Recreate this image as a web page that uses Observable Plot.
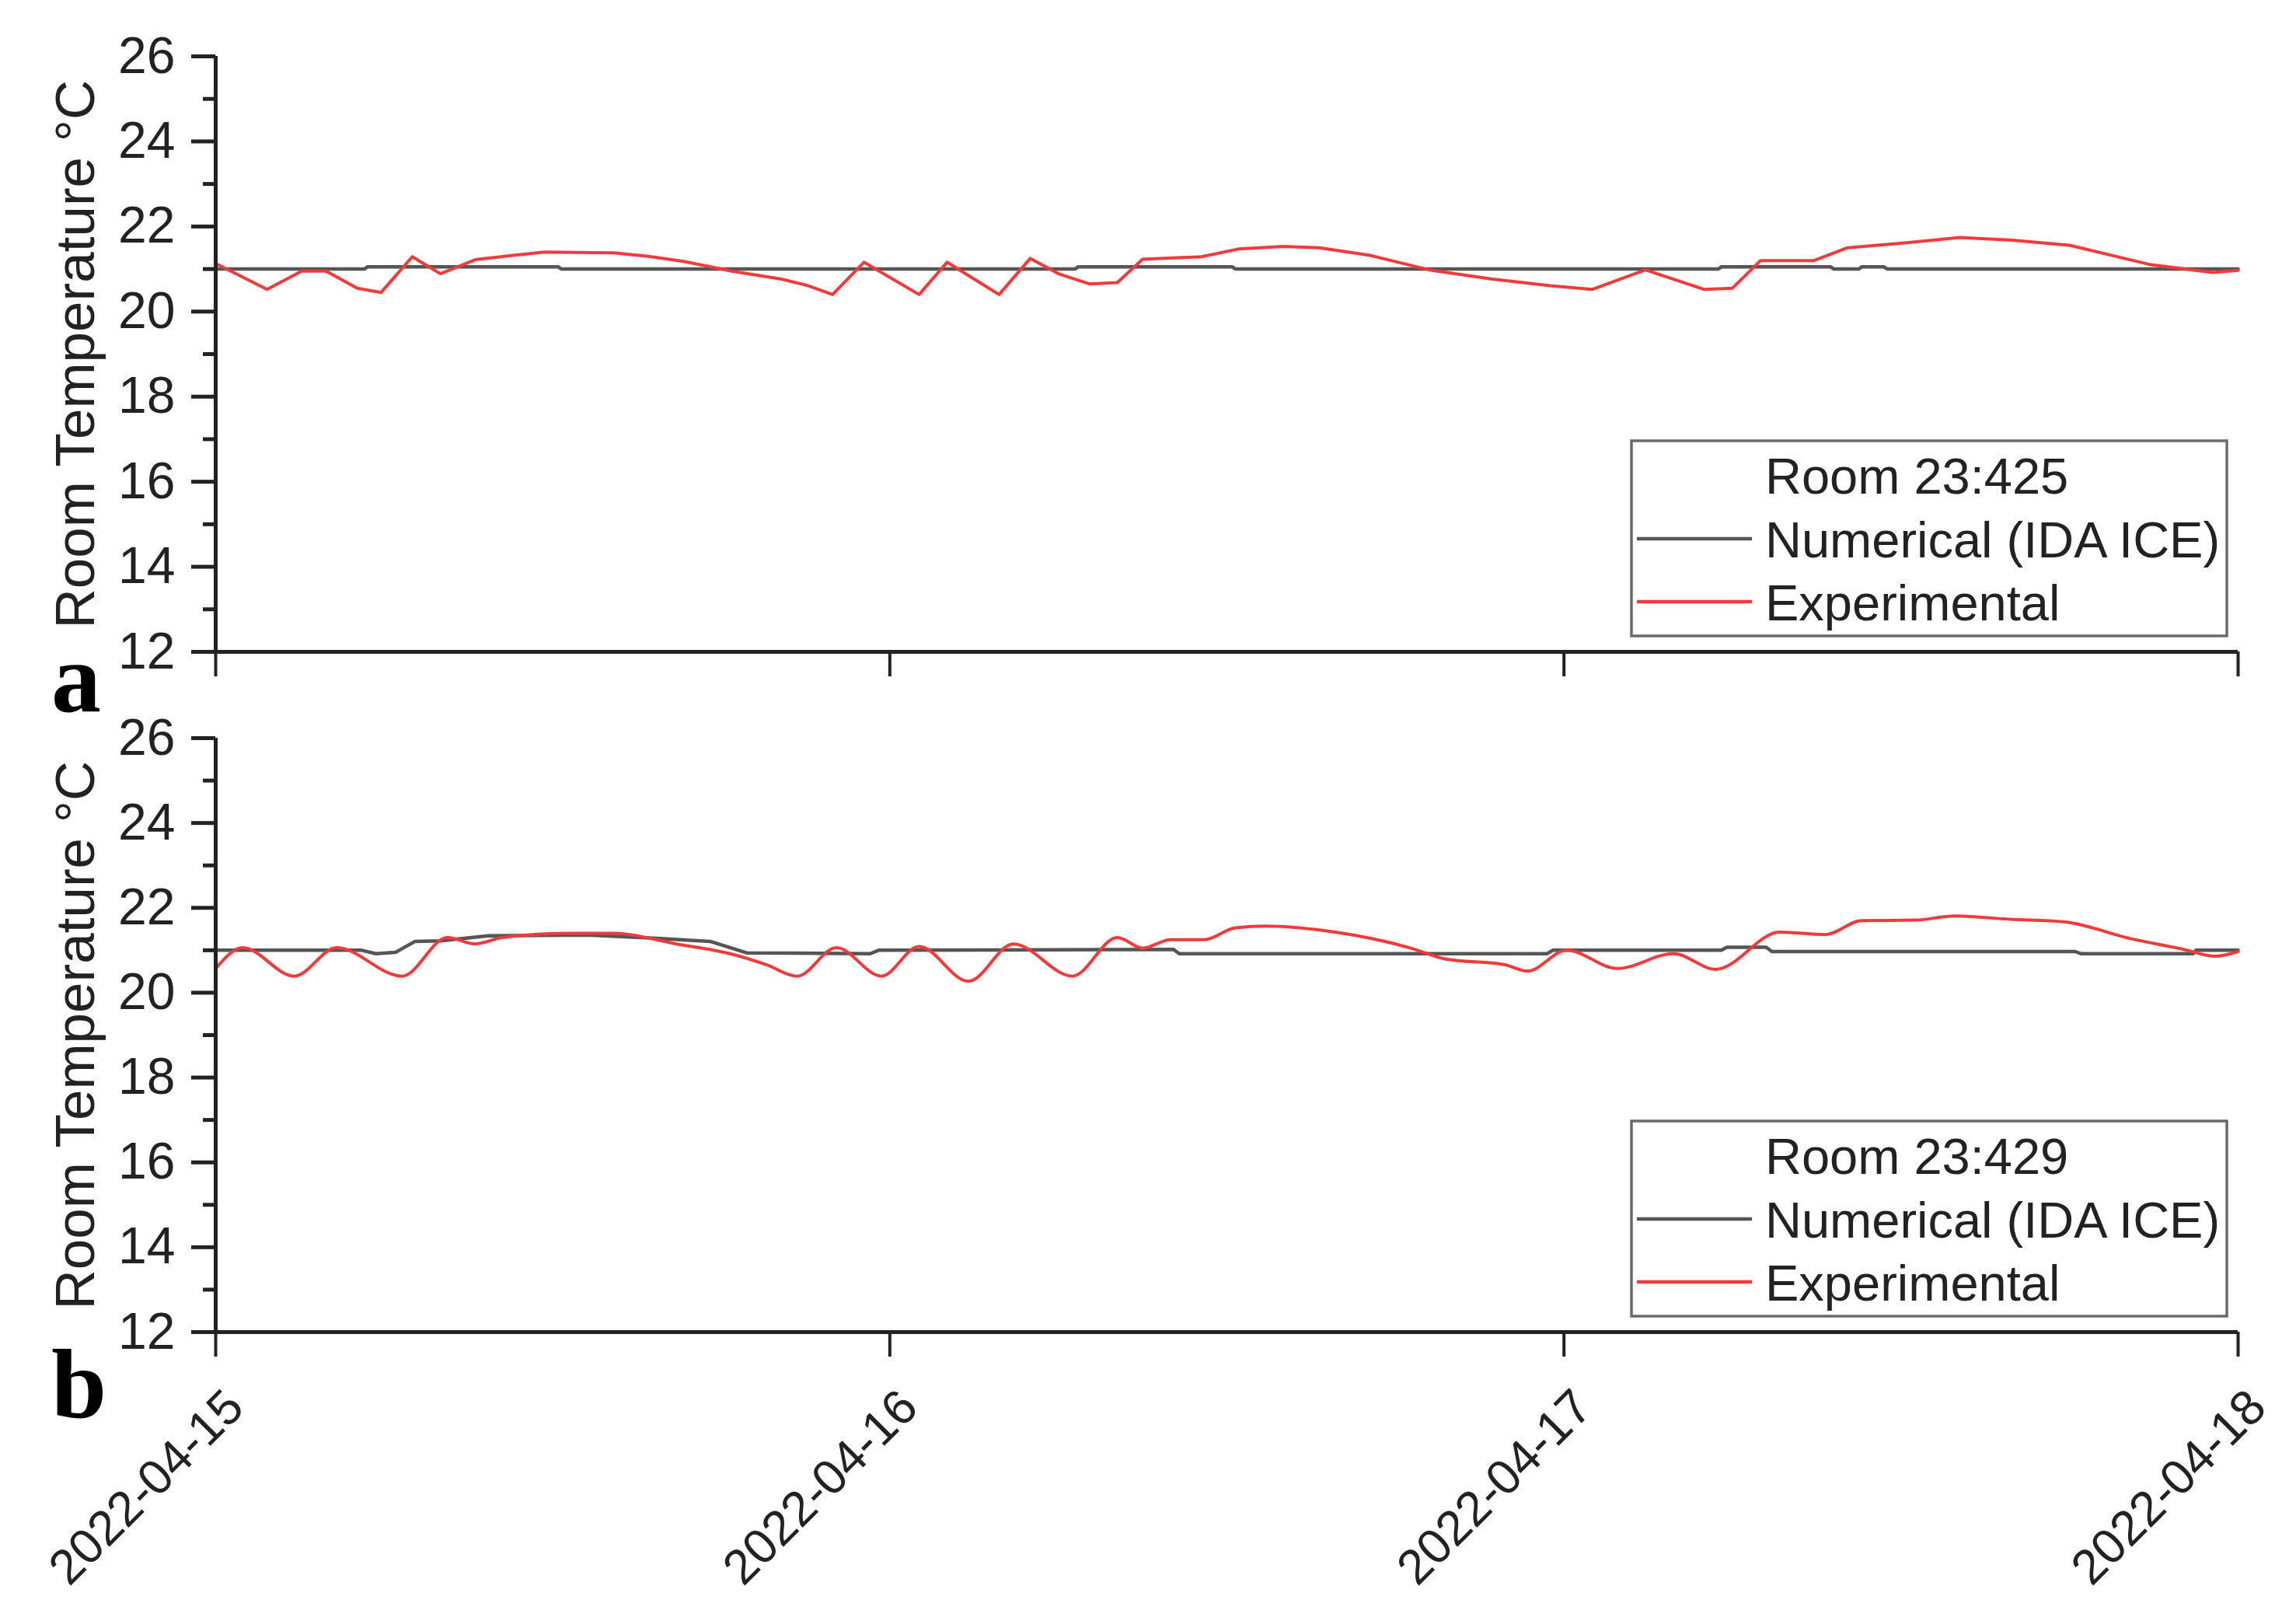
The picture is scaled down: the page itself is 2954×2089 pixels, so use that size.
<!DOCTYPE html>
<html>
<head>
<meta charset="utf-8">
<script src="https://cdn.jsdelivr.net/npm/d3@7"></script>
<script src="https://cdn.jsdelivr.net/npm/@observablehq/plot@0.6"></script>
<style>
  html, body { margin: 0; padding: 0; background: #fff; }
  #fig { position: relative; width: 2954px; height: 2089px; overflow: hidden; background: #fff;
         font-family: "Liberation Sans", Arial, sans-serif; }
  #fig > svg { position: absolute; left: 0; }
</style>
</head>
<body>
<div id="fig"></div>
<script>
// ---------------- data ----------------
const dayTicks = ["2022-04-15", "2022-04-16", "2022-04-17", "2022-04-18"];
const yTicks = [12, 14, 16, 18, 20, 22, 24, 26];
const yMinorTicks = [13, 15, 17, 19, 21, 23, 25];
const yTitle = "Room Temperature °C";
const roomTitles = ["Room 23:425", "Room 23:429"];
const seriesNames = ["Numerical (IDA ICE)", "Experimental"];
const panelLetters = ["a", "b"];

// hours since 2022-04-15 00:00, values in °C
const expHoursA = [0, 1.83, 3.06, 3.93, 5.04, 5.89, 7.0, 8.0, 9.24, 10.46, 11.7, 14.17, 15.41, 16.66, 18.37, 20.1, 21.08, 21.96, 23.08, 25.04, 26.04, 27.89, 29.0, 30.0, 31.1, 32.1, 33.0, 35.1, 36.4, 38.0, 39.3, 41.1, 43.2, 45.4, 47.5, 49.0, 50.9, 53.0, 54.0, 55.0, 56.9, 58.1, 60.2, 62.1, 63.9, 66.0, 68.9, 71.1, 72];
const expTempA  = [21.13, 20.52, 20.95, 20.95, 20.55, 20.45, 21.29, 20.89, 21.22, 21.31, 21.40, 21.38, 21.30, 21.18, 20.95, 20.77, 20.61, 20.40, 21.16, 20.40, 21.16, 20.40, 21.25, 20.89, 20.65, 20.68, 21.23, 21.29, 21.47, 21.53, 21.50, 21.32, 20.98, 20.77, 20.61, 20.52, 20.98, 20.52, 20.55, 21.20, 21.20, 21.50, 21.62, 21.74, 21.68, 21.56, 21.10, 20.92, 20.97];
const numHoursA = [0, 5.3, 5.4, 12.2, 12.3, 30.6, 30.7, 36.2, 36.3, 53.5, 53.6, 57.5, 57.6, 58.5, 58.6, 59.4, 59.5, 72];
const numTempA  = [21.0, 21.0, 21.05, 21.05, 21.0, 21.0, 21.05, 21.05, 21.0, 21.0, 21.05, 21.05, 21.0, 21.0, 21.05, 21.05, 21.0, 21.0];

const expHoursB = [0, 0.96, 2.8, 4.3, 6.64, 8.25, 9.24, 10.2, 12.7, 14.17, 16.4, 18.37, 19.6, 20.7, 22.1, 23.7, 25.04, 26.8, 28.4, 30.5, 32.1, 33.0, 34.0, 35.2, 36.3, 37.4, 39.5, 42.5, 43.8, 45.9, 46.7, 48.1, 49.9, 51.9, 53.4, 55.7, 57.3, 58.6, 60.5, 61.9, 63.9, 65.8, 68.2, 70.0, 71.2, 72];
const expTempB  = [20.57, 21.06, 20.39, 21.06, 20.39, 21.30, 21.15, 21.30, 21.40, 21.40, 21.15, 20.91, 20.66, 20.39, 21.06, 20.39, 21.09, 20.27, 21.15, 20.39, 21.30, 21.05, 21.25, 21.25, 21.53, 21.57, 21.46, 21.06, 20.79, 20.66, 20.51, 21.0, 20.57, 20.92, 20.55, 21.43, 21.37, 21.70, 21.71, 21.81, 21.73, 21.67, 21.27, 21.03, 20.86, 20.97];
const numHoursB = [0, 5.2, 5.7, 6.4, 7.1, 8.0, 9.7, 13.2, 15.7, 17.6, 18.9, 23.3, 23.6, 34.1, 34.3, 47.4, 47.6, 53.6, 53.8, 55.2, 55.4, 66.2, 66.4, 70.4, 70.5, 72];
const numTempB  = [21.0, 21.0, 20.92, 20.95, 21.21, 21.22, 21.34, 21.36, 21.28, 21.21, 20.94, 20.92, 21.0, 21.02, 20.92, 20.92, 21.0, 21.0, 21.07, 21.07, 20.97, 20.97, 20.92, 20.92, 21.0, 21.0];

// ---------------- helpers ----------------
const t0 = new Date(dayTicks[0] + "T00:00:00Z");
const toRows = (hours, temps) => hours.map((h, i) => ({t: new Date(+t0 + h * 3600e3), v: temps[i]}));
const dayDates = dayTicks.map(d => new Date(d + "T00:00:00Z"));
const fmt = d3.utcFormat("%Y-%m-%d");

const INK = "#222";
const GREY = "#555";
const RED = "#f23a3a";
const FONT = "Liberation Sans, Arial, sans-serif";

function panel({exp, num, curve, height, marginBottom, labels}) {
  return Plot.plot({
    width: 2954, height,
    marginLeft: 277, marginRight: 75, marginTop: 72, marginBottom,
    style: {fontFamily: FONT, fontSize: "66px", color: INK, background: "transparent", overflow: "visible"},
    x: {type: "utc", domain: [dayDates[0], dayDates[dayDates.length - 1]]},
    y: {domain: [12, 26]},
    marks: [
      Plot.line(num, {x: "t", y: "v", stroke: GREY, strokeWidth: 4.5}),
      Plot.line(exp, {x: "t", y: "v", stroke: RED, strokeWidth: 4, curve}),
      Plot.ruleY([12], {stroke: INK, strokeWidth: 5}),
      Plot.ruleX([dayDates[0]], {y1: 12, y2: 26, stroke: INK, strokeWidth: 5}),
      Plot.axisY({ticks: yTicks, tickSize: 31, tickPadding: 21, stroke: INK, fill: INK, strokeWidth: 5, fontSize: 66, label: null}),
      Plot.axisY({ticks: yMinorTicks, tickSize: 16, stroke: INK, fill: "none", strokeWidth: 5, label: null}),
      Plot.axisX({ticks: dayDates, tickSize: 32, stroke: INK, fill: "none", strokeWidth: 4, label: null}),
      labels
        ? Plot.axisX({ticks: dayDates, tickSize: 0, tickPadding: 86, dx: 25, tickRotate: -45, tickFormat: fmt, fill: INK, fontSize: 63, label: null})
        : null,
      Plot.text([yTitle], {frameAnchor: "left", textAnchor: "middle", rotate: -90, dx: -179, fontSize: 71, fill: INK})
    ]
  });
}

const fig = document.getElementById("fig");

const pA = panel({exp: toRows(expHoursA, expTempA), num: toRows(numHoursA, numTempA), curve: "linear", height: 900, marginBottom: 62, labels: false});
pA.style.top = "0px";
fig.appendChild(pA);

const pB = panel({exp: toRows(expHoursB, expTempB), num: toRows(numHoursB, numTempB), curve: "monotone-x", height: 1212, marginBottom: 376, labels: true});
pB.style.top = "877px";
fig.appendChild(pB);

// ---------------- legends and panel letters (overlay) ----------------
const ns = "http://www.w3.org/2000/svg";
const ov = document.createElementNS(ns, "svg");
ov.setAttribute("width", 2954);
ov.setAttribute("height", 2089);
ov.style.top = "0px";
ov.style.pointerEvents = "none";
fig.appendChild(ov);
function el(tag, attrs, text) {
  const e = document.createElementNS(ns, tag);
  for (const k in attrs) e.setAttribute(k, attrs[k]);
  if (text != null) e.textContent = text;
  ov.appendChild(e);
  return e;
}
const legendTops = [567, 1442];
const letterBaselines = [915, 1823];
roomTitles.forEach((title, i) => {
  const top = legendTops[i];
  el("rect", {x: 2099, y: top, width: 766, height: 251, fill: "white", stroke: "#6a6a6a", "stroke-width": 3.5});
  el("text", {x: 2271, y: top + 68, "font-family": FONT, "font-size": 65, fill: INK}, title);
  const colors = [GREY, RED];
  seriesNames.forEach((name, j) => {
    const base = top + 150 + j * 81;
    el("line", {x1: 2106, x2: 2254, y1: base - 24, y2: base - 24, stroke: colors[j], "stroke-width": 4.5});
    el("text", {x: 2271, y: base, "font-family": FONT, "font-size": 65, fill: INK}, name);
  });
  el("text", {x: 66, y: letterBaselines[i], "font-family": "Liberation Serif, Times New Roman, serif", "font-weight": "bold", "font-size": 128, fill: "#000"}, panelLetters[i]);
});
</script>
</body>
</html>
